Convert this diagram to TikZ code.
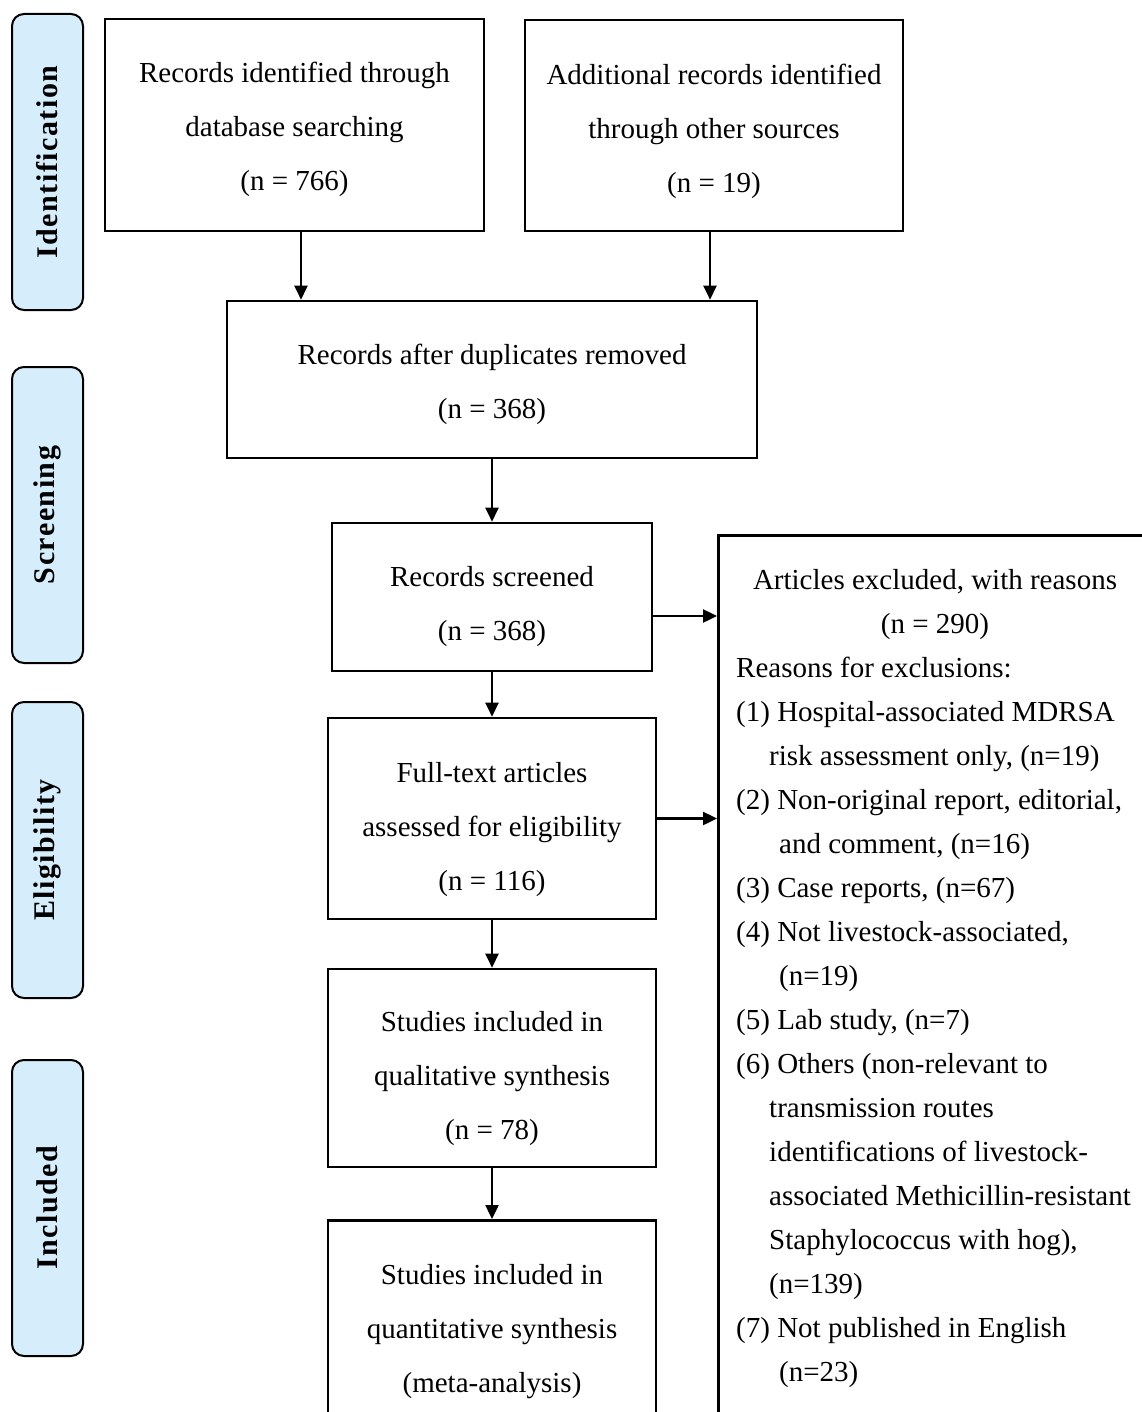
\documentclass[tikz,border=0pt]{standalone}
\usepackage{fontspec}
\setmainfont{Liberation Serif}
\usetikzlibrary{arrows.meta}
\definecolor{stageblue}{RGB}{214,238,252}
\newcommand{\lowered}[1]{\rule{0pt}{#1}}

\begin{document}
\begin{tikzpicture}[x=1pt, y=-1pt,
		flowbox/.style={draw, line width=2.6pt, inner sep=0, align=center, font=\fontsize{29}{54}\selectfont},
		stagebox/.style={draw, line width=2pt, fill=stageblue, rounded corners=12pt, minimum width=71pt, minimum height=296pt},
		listtext/.style={inner sep=0, font=\fontsize{29}{44}\selectfont},
		arr/.style={line width=2.4pt, -{Triangle[length=14pt,width=13pt]}}]
		\useasboundingbox (0, 0) rectangle (1141, 1412);

		% stages on the left
		\foreach \y/\lab in {162/Identification, 515/Screening, 850/Eligibility, 1208/Included} {
			\node[stagebox] (\lab) at (47.5, \y) {};
			\node[rotate=90, font=\fontsize{30}{30}\selectfont\bfseries\addfontfeature{LetterSpace=5}] (\lab-text) at (\lab) {\lab};
		}

		\node[flowbox, minimum width=379pt, minimum height=212pt] (db) at (294.5, 125) {\lowered{30pt}Records identified through\\database searching\\(n = 766)};
		\node[flowbox, minimum width=378pt, minimum height=211pt] (other) at (714, 125.5) {\lowered{32pt}Additional records identified\\through other sources\\(n = 19)};
		\node[flowbox, minimum width=530pt, minimum height=157pt] (dup) at (492, 379.5) {\lowered{30pt}Records after duplicates removed\\(n = 368)};
		\node[flowbox, minimum width=320pt, minimum height=148pt] (screened) at (492, 597) {\lowered{40pt}Records screened\\(n = 368)};
		\node[flowbox, minimum width=328pt, minimum height=201pt] (fulltext) at (492, 818.5) {\lowered{42pt}Full-text articles\\assessed for eligibility\\(n = 116)};
		\node[flowbox, minimum width=328pt, minimum height=198pt] (qual) at (492, 1068) {\lowered{42pt}Studies included in\\qualitative synthesis\\(n = 78)};
		\node[flowbox, anchor=north, minimum width=328pt, minimum height=200pt] (quant) at (492, 1219) {\lowered{42pt}Studies included in\\quantitative synthesis\\(meta-analysis)};

		% exclusions
		\node[draw, line width=2.6pt, anchor=north west, minimum width=436pt, minimum height=900pt] (excl) at (717, 534) {};
		\node[listtext, anchor=north, align=center] (excl-head) at (935, 569) {Articles excluded, with reasons\\(n = 290)};
		\node[listtext, anchor=north west, align=left] (excl-list) at (736, 657) {Reasons for exclusions:\\
			(1) Hospital-associated MDRSA\\
			\hspace*{33pt}risk assessment only, (n=19)\\
			(2) Non-original report, editorial,\\
			\hspace*{43pt}and comment, (n=16)\\
			(3) Case reports, (n=67)\\
			(4) Not livestock-associated,\\
			\hspace*{43pt}(n=19)\\
			(5) Lab study, (n=7)\\
			(6) Others (non-relevant to\\
			\hspace*{33pt}transmission routes\\
			\hspace*{33pt}identifications of livestock-\\
			\hspace*{33pt}associated Methicillin-resistant\\
			\hspace*{33pt}Staphylococcus with hog),\\
			\hspace*{33pt}(n=139)\\
			(7) Not published in English\\
			\hspace*{43pt}(n=23)};

		\draw[arr] ([xshift=6.5pt]db.south) -- ([xshift=6.5pt]db.south |- dup.north);
		\draw[arr] ([xshift=-4pt]other.south) -- ([xshift=-4pt]other.south |- dup.north);
		\draw[arr] (dup.south) -- (screened.north);
		\draw[arr] ([yshift=-19pt]screened.east) -- ([yshift=-19pt]screened.east -| excl.west);
		\draw[arr] (screened.south) -- (fulltext.north);
		\draw[arr] (fulltext.east) -- (fulltext.east -| excl.west);
		\draw[arr] (fulltext.south) -- (qual.north);
		\draw[arr] (qual.south) -- (quant.north);
	\end{tikzpicture}
\end{document}
